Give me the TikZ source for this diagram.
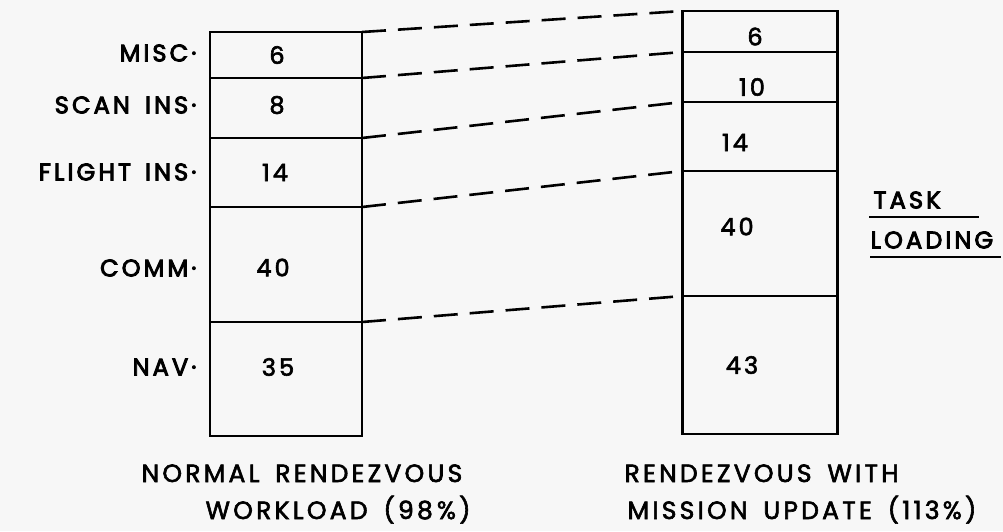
\documentclass[tikz,border=0pt]{standalone}
\usepackage{fontspec}
\setmainfont{Poppins}[LetterSpace=13, WordSpace=1.6]
\begin{document}
\begin{tikzpicture}[x = 1pt, y = -1pt, very thick]
    \tikzstyle{heavy}=[execute at begin node={\special{pdf:literal direct 2 Tr 0.9 w}}, execute at end node={\special{pdf:literal direct 0 Tr}}]
    \tikzstyle{medium}=[execute at begin node={\special{pdf:literal direct 2 Tr 0.6 w}}, execute at end node={\special{pdf:literal direct 0 Tr}}]
    \tikzstyle{seg}=[rectangle, draw = black, line width=2.6pt, inner sep=0pt, outer sep=0pt]
    \tikzstyle{num}=[medium, inner sep=0pt, font=\fontsize{24}{26}\selectfont]
    \tikzstyle{lab}=[heavy, anchor=east, inner sep=0pt, font=\fontsize{24}{28}\selectfont]
    \tikzstyle{link}=[line width=2.6pt, dash pattern=on 24pt off 12pt]
    \tikzstyle{caption}=[medium, anchor=base west, inner sep=0pt, font=\fontsize{25}{28}\selectfont]
    \fill[black!3] (0,0) rectangle (1003,531);
    \useasboundingbox (0,0) rectangle (1003,531);
    
    % normal rendezvous
    \foreach \name/\top/\bot/\val/\dx/\dy in {1/32/78/6/-9/0, 2/78/138/8/-9/3, 3/138/207/14/-11/0, 4/207/322/40/-13/-3, 5/322/436/35/-8/12}
    \node[seg, minimum width=152pt, minimum height={\bot-\top}, label={[num, xshift=\dx pt, yshift=\dy pt]center:\val}] (L-\name) at (286, {(\top+\bot)/2}) {};
    
    % with mission update
    \foreach \name/\top/\bot/\val/\dx/\dy in {1/11/52/6/-5/-5, 2/52/102/10/-8/-10, 3/102/171/14/-25/-6, 4/171/296/40/-23/7, 5/296/434/43/-18/0}
    \node[seg, minimum width=155pt, minimum height={\bot-\top}, label={[num, xshift=\dx pt, yshift=\dy pt]center:\val}] (R-\name) at (760, {(\top+\bot)/2}) {};
    
    \foreach \name/\y/\text in {1/53/MISC·, 2/105/SCAN INS·, 3/172/{FLIGHT\hspace{14pt}INS·}, 4/268/COMM·, 5/367/NAV·}
    \node[lab] (T-\name) at (197,\y) {\text};
    
    \draw[link] (L-1.north east) -- (R-1.north west);
    \foreach \i in {1,...,4}
    \draw[link] (L-\i.south east) -- (R-\i.south west);
    
    \node[heavy, anchor=west, inner sep=0pt, text width=105pt, font=\fontsize{24}{28}\selectfont] (task) at (873,200) {TASK};
    \node[heavy, anchor=west, inner sep=0pt, text width=130pt, font=\fontsize{24}{28}\selectfont] (loading) at (870,240) {LOADING};
    \draw[line width=2.6pt] ([xshift=-4pt, yshift=-8pt]task.south west) -- ([yshift=-8pt]task.south east);
    \draw[line width=2.6pt] ([yshift=-8pt]loading.south west) -- ([yshift=-8pt]loading.south east);
    
    \node[caption] (normal) at (141,482) {NORMAL RENDEZVOUS};
    \node[caption] (normalb) at (205,519) {WORKLOAD (98\,\%)};
    \node[caption] (update) at (624,482) {RENDEZVOUS WITH};
    \node[caption] (updateb) at (627,519) {MISSION UPDATE (113\%)};
\end{tikzpicture}
\end{document}
